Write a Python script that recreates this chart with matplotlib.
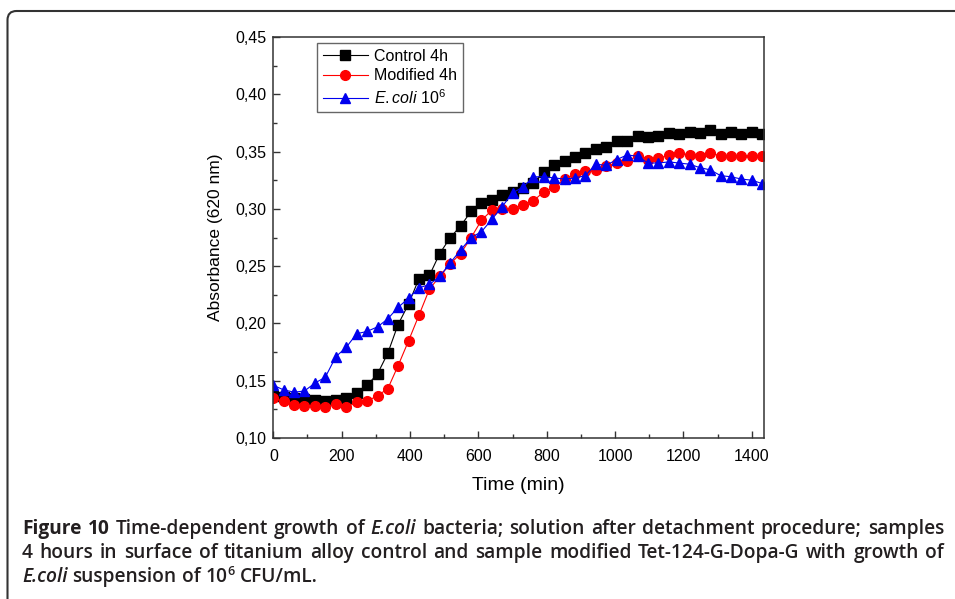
import matplotlib
matplotlib.use('Agg')
import matplotlib.pyplot as plt
from matplotlib.ticker import MultipleLocator, FuncFormatter
from matplotlib.patches import FancyBboxPatch
from matplotlib.transforms import IdentityTransform

plt.rcParams['font.family'] = 'Liberation Sans'
plt.rcParams['mathtext.fontset'] = 'custom'
plt.rcParams['mathtext.rm'] = 'Liberation Sans'
plt.rcParams['mathtext.it'] = 'Liberation Sans:italic'

# sampling times (min)
time_min = [0, 30, 61, 91, 122, 152, 183, 213, 244, 274,
            305, 335, 365, 396, 426, 457, 487, 518, 548, 579,
            609, 640, 670, 700, 731, 761, 792, 822, 853, 883,
            913, 944, 974, 1005, 1035, 1066, 1096, 1127, 1157, 1187,
            1218, 1248, 1279, 1309, 1340, 1370, 1401, 1431]

control_4h = [0.137, 0.136, 0.135, 0.134, 0.133, 0.132, 0.133, 0.135, 0.139, 0.146,
              0.156, 0.174, 0.199, 0.217, 0.239, 0.242, 0.261, 0.275, 0.285, 0.298,
              0.305, 0.308, 0.312, 0.315, 0.318, 0.323, 0.332, 0.338, 0.342, 0.345,
              0.349, 0.352, 0.354, 0.359, 0.359, 0.364, 0.363, 0.364, 0.366, 0.365,
              0.367, 0.366, 0.369, 0.365, 0.367, 0.365, 0.367, 0.365]

modified_4h = [0.135, 0.132, 0.129, 0.128, 0.128, 0.127, 0.130, 0.127, 0.131, 0.132,
               0.137, 0.143, 0.163, 0.185, 0.207, 0.230, 0.241, 0.252, 0.261, 0.275,
               0.290, 0.299, 0.300, 0.300, 0.303, 0.307, 0.315, 0.319, 0.326, 0.330,
               0.333, 0.334, 0.337, 0.340, 0.342, 0.346, 0.343, 0.344, 0.347, 0.349,
               0.347, 0.346, 0.349, 0.346, 0.346, 0.346, 0.346, 0.346]

ecoli_1e6 = [0.146, 0.142, 0.140, 0.141, 0.148, 0.153, 0.171, 0.179, 0.191, 0.193,
             0.197, 0.204, 0.214, 0.222, 0.231, 0.234, 0.241, 0.253, 0.264, 0.275,
             0.280, 0.291, 0.302, 0.314, 0.319, 0.328, 0.328, 0.327, 0.326, 0.327,
             0.329, 0.339, 0.338, 0.343, 0.347, 0.346, 0.340, 0.340, 0.341, 0.340,
             0.339, 0.336, 0.334, 0.329, 0.328, 0.326, 0.325, 0.322]

fig = plt.figure(figsize=(9.55, 5.99), dpi=100)
ax = fig.add_axes([0.2862, 0.2688, 0.5138, 0.6694])

ax.plot(time_min, control_4h, '-s', color='black', lw=0.8, ms=6.5, label='Control 4h')
ax.plot(time_min, modified_4h, '-o', color='#ff0000', lw=0.8, ms=7, label='Modified 4h')
ax.plot(time_min, ecoli_1e6, '-^', color='#0000ee', lw=0.8, ms=7.5, label=r'$\mathit{E.coli}$ 10$^{6}$')

ax.set_xlim(0, 1436)
ax.set_ylim(0.10, 0.45)
ax.xaxis.set_major_locator(MultipleLocator(200))
ax.xaxis.set_minor_locator(MultipleLocator(100))
ax.yaxis.set_major_locator(MultipleLocator(0.05))
ax.yaxis.set_minor_locator(MultipleLocator(0.025))
ax.yaxis.set_major_formatter(FuncFormatter(lambda v, p: f'{v:.2f}'.replace('.', ',')))

ax.tick_params(which='both', direction='in', top=False, right=False, labelsize=11.5, color='#333333')
ax.tick_params(which='major', length=5, width=1)
ax.tick_params(which='minor', length=3, width=1)
ax.tick_params(axis='x', pad=8)
ax.tick_params(axis='y', pad=5)
for s in ax.spines.values():
    s.set_linewidth(1.1)
    s.set_color('#333333')

ax.set_xlabel('Time (min)', fontsize=14, labelpad=9)
ax.set_ylabel('Absorbance (620 nm)', fontsize=12.5, labelpad=9)

leg = ax.legend(loc='upper left', bbox_to_anchor=(0.09, 0.985), borderaxespad=0,
                fontsize=11.5, fancybox=False, edgecolor='#666666', framealpha=1,
                handlelength=2.8, handletextpad=0.4, labelspacing=0.3, borderpad=0.35)
leg.get_frame().set_linewidth(1.0)

# rounded frame (only top and left edges visible)
frame = FancyBboxPatch((7.5, -40), 1000, 628, boxstyle='round,pad=0,rounding_size=9',
                       transform=IdentityTransform(), fill=False, edgecolor='#333333', lw=1.5)
fig.add_artist(frame)

# caption, drawn word by word so bold / italic / superscript can be mixed
cap_font = 'Open Sans'
cap_size = 13.8
cap_lines = [
    [('Figure 10', 'b'), ('Time-dependent growth of', 'r'), ('E.coli', 'i'),
     ('bacteria; solution after detachment procedure; samples', 'r')],
    [('4 hours in surface of titanium alloy control and sample modified Tet-124-G-Dopa-G with growth of', 'r')],
    [('E.coli', 'i'), ('suspension of 10', 'r'), ('6', 'sup'), ('CFU/mL.', 'r')],
]
baselines = [65, 41, 17]
justify = [True, True, False]
left, right = 22, 944

renderer = fig.canvas.get_renderer()


def make_text(word, kind, x, y):
    kw = dict(family=cap_font, weight='semibold', style='normal', size=cap_size)
    if kind == 'b':
        kw['weight'] = 'bold'
    elif kind == 'i':
        kw['style'] = 'italic'
    elif kind == 'sup':
        kw['size'] = cap_size * 0.65
        y += 7
    return fig.text(x, y, word, transform=IdentityTransform(), va='baseline', ha='left',
                    color='#231f20', **kw)


probe_a = make_text('aa', 'r', 0, -100)
probe_b = make_text('a a', 'r', 0, -100)
space_w = probe_b.get_window_extent(renderer).width - probe_a.get_window_extent(renderer).width
probe_a.remove()
probe_b.remove()

for line, y, just in zip(cap_lines, baselines, justify):
    tokens = []
    for seg, kind in line:
        if kind == 'sup':
            tokens.append((seg, kind, False))
        else:
            for w in seg.split(' '):
                tokens.append((w, kind, True))
    texts = [make_text(w, k, 0, y) for w, k, _ in tokens]
    widths = [t.get_window_extent(renderer).width for t in texts]
    n_gaps = sum(1 for i, tk in enumerate(tokens) if i > 0 and tk[2])
    gap = space_w
    if just and n_gaps:
        gap = (right - left - sum(widths)) / n_gaps
    x = left
    for i, (t, w, tk) in enumerate(zip(texts, widths, tokens)):
        if i > 0 and tk[2]:
            x += gap
        t.set_x(x)
        x += w

fig.savefig('out.png', dpi=100)
